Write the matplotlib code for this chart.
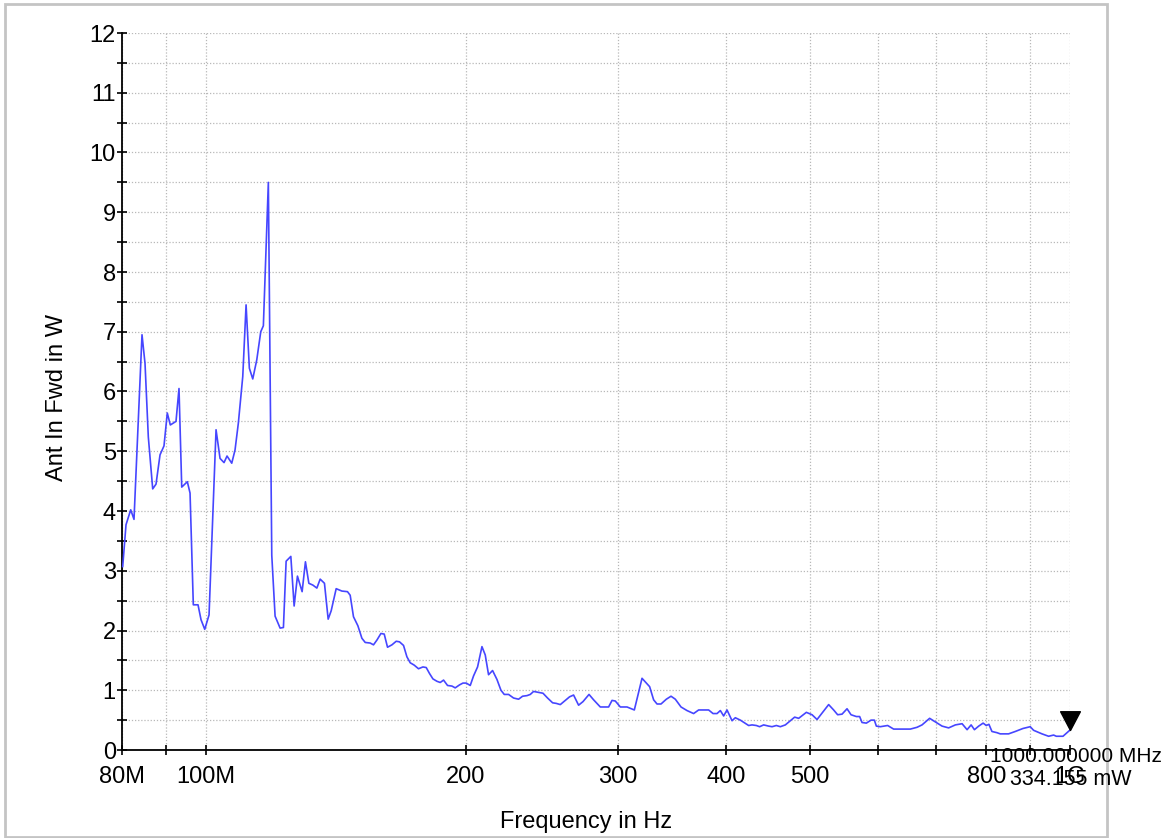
import matplotlib
matplotlib.use("Agg")
import matplotlib.pyplot as plt
from matplotlib.path import Path
from matplotlib.patches import Rectangle
from matplotlib.ticker import FixedLocator, NullFormatter

plt.rcParams['font.family'] = ['Liberation Sans', 'DejaVu Sans']

# Forward power sweep, frequency in MHz, power in W
freq_mhz = [
    80.15, 80.86, 81.88, 82.6, 84.38, 85.06, 85.81, 86.82, 87.59, 88.53,
    89.47, 90.26, 90.99, 92.38, 93.12, 93.8, 95.21, 95.9, 96.74, 97.96,
    98.75, 99.73, 100.88, 102.78, 103.88, 104.99, 105.83, 107.17, 108.11, 109.07,
    110.36, 111.34, 112.32, 113.34, 114.56, 115.78, 116.59, 118.15, 119.23, 120.29,
    121.91, 122.99, 123.88, 125.44, 126.55, 127.67, 129.27, 130.42, 131.61, 133.02,
    134.45, 135.64, 137.2, 138.56, 139.68, 141.55, 143.72, 145.88, 146.93, 148.23,
    149.97, 151.59, 152.93, 154.98, 156.35, 157.78, 159.47, 160.88, 162.3, 164.22,
    166.1, 167.57, 169.37, 170.9, 172.41, 174.27, 176.26, 178.36, 179.93, 181.52,
    183.17, 185.14, 186.77, 188.43, 190.44, 192.68, 194.39, 196.63, 198.42, 200.18,
    202.32, 204.11, 206.3, 208.73, 210.57, 212.43, 214.72, 217.25, 219.56, 221.51,
    224.07, 227.07, 230.13, 232.59, 235.33, 237.41, 239.51, 243.37, 245.59, 248.6,
    251.96, 254.44, 257.18, 260.62, 263.61, 266.45, 270.02, 273.22, 277.63, 281.04,
    286.11, 292.5, 295.18, 297.77, 301.78, 307.2, 313.25, 319.74, 326.29, 329.77,
    332.78, 336.33, 341.13, 345.43, 349.4, 354.75, 360.46, 366.86, 371.8, 381.83,
    386.33, 390.47, 393.93, 397.41, 401.0, 406.41, 409.96, 415.48, 424.77, 428.64,
    433.56, 437.4, 442.1, 448.02, 452.12, 457.31, 462.22, 468.42, 473.83, 480.18,
    485.33, 495.39, 502.96, 509.7, 517.92, 525.7, 532.74, 538.46, 544.8, 552.1,
    558.0, 565.95, 570.95, 574.6, 581.25, 588.58, 593.78, 596.95, 603.35, 615.2,
    625.1, 653.5, 665.3, 674.2, 688.0, 698.5, 711.1, 723.7, 736.8, 750.1,
    760.2, 768.4, 775.2, 784.1, 793.4, 800.0, 805.7, 812.2, 823.1, 830.4,
    849.0, 864.3, 882.2, 899.5, 907.5, 928.1, 944.6, 957.3, 964.2, 981.5,
    1000.0,
]
fwd_w = [
    3.07, 3.77, 4.02, 3.86, 6.95, 6.47, 5.24, 4.37, 4.45, 4.94,
    5.09, 5.64, 5.44, 5.50, 6.05, 4.40, 4.49, 4.30, 2.43, 2.43,
    2.18, 2.02, 2.26, 5.36, 4.88, 4.81, 4.92, 4.80, 5.02, 5.47,
    6.25, 7.45, 6.39, 6.21, 6.53, 7.00, 7.10, 9.50, 3.26, 2.24,
    2.04, 2.05, 3.16, 3.24, 2.41, 2.91, 2.65, 3.15, 2.79, 2.76,
    2.71, 2.86, 2.79, 2.19, 2.33, 2.70, 2.66, 2.65, 2.59, 2.23,
    2.08, 1.87, 1.80, 1.79, 1.76, 1.84, 1.95, 1.94, 1.72, 1.76,
    1.82, 1.81, 1.75, 1.56, 1.46, 1.42, 1.36, 1.39, 1.38, 1.28,
    1.19, 1.15, 1.13, 1.17, 1.08, 1.07, 1.04, 1.09, 1.12, 1.12,
    1.08, 1.24, 1.39, 1.73, 1.59, 1.26, 1.33, 1.18, 1.00, 0.93,
    0.93, 0.87, 0.85, 0.90, 0.91, 0.93, 0.98, 0.96, 0.95, 0.87,
    0.79, 0.78, 0.76, 0.83, 0.89, 0.92, 0.75, 0.81, 0.93, 0.84,
    0.72, 0.72, 0.83, 0.82, 0.72, 0.72, 0.67, 1.20, 1.06, 0.84,
    0.77, 0.77, 0.85, 0.90, 0.85, 0.72, 0.66, 0.61, 0.67, 0.67,
    0.61, 0.61, 0.66, 0.57, 0.67, 0.49, 0.54, 0.50, 0.41, 0.42,
    0.41, 0.39, 0.42, 0.40, 0.39, 0.41, 0.39, 0.42, 0.48, 0.55,
    0.53, 0.63, 0.59, 0.51, 0.64, 0.76, 0.67, 0.59, 0.60, 0.69,
    0.59, 0.56, 0.56, 0.46, 0.45, 0.50, 0.50, 0.40, 0.39, 0.41,
    0.35, 0.35, 0.38, 0.42, 0.53, 0.47, 0.40, 0.37, 0.42, 0.44,
    0.34, 0.42, 0.34, 0.40, 0.45, 0.41, 0.43, 0.31, 0.29, 0.27,
    0.27, 0.31, 0.36, 0.39, 0.33, 0.27, 0.23, 0.25, 0.23, 0.23,
    0.334,
]

x_ticks = [80, 90, 100, 200, 300, 400, 500, 600, 700, 800, 900, 1000]
x_tick_labels = ['80M', '', '100M', '200', '300', '400', '500', '', '', '800', '', '1G']
y_major = list(range(0, 13))
y_minor = [v + 0.5 for v in range(0, 12)]

marker_freq = 1000.0
marker_value = 0.334
marker_freq_label = '1000.000000 MHz'
marker_value_label = '334.155 mW'

W, H = 1170, 838
fig = plt.figure(figsize=(W / 100, H / 100), dpi=100)
ax = fig.add_axes([122 / W, 1 - 750 / H, (1070 - 122) / W, (750 - 33) / H])

ax.set_xscale('log')
ax.set_xlim(80, 1000)
ax.set_ylim(0, 12)

ax.plot(freq_mhz, fwd_w, color='#4646ff', linewidth=1.2, zorder=3, clip_on=False)

# Marker triangle whose tip sits on the data point
tri = Path([(-1.0, 1.9), (1.0, 1.9), (0.0, 0.0), (-1.0, 1.9)],
           [Path.MOVETO, Path.LINETO, Path.LINETO, Path.CLOSEPOLY])
ax.plot([marker_freq], [marker_value], marker=tri, markersize=27,
        color='black', linestyle='none', zorder=5, clip_on=False)

# Axes styling
for side in ('top', 'right'):
    ax.spines[side].set_visible(False)
for side in ('left', 'bottom'):
    ax.spines[side].set_linewidth(1.3)
    ax.spines[side].set_color('black')

ax.xaxis.set_major_locator(FixedLocator(x_ticks))
ax.xaxis.set_minor_locator(FixedLocator([]))
ax.set_xticklabels(x_tick_labels)
ax.xaxis.set_minor_formatter(NullFormatter())
ax.yaxis.set_major_locator(FixedLocator(y_major))
ax.yaxis.set_minor_locator(FixedLocator(y_minor))

ax.tick_params(axis='both', which='both', direction='inout', length=7,
               width=1.2, colors='black', labelsize=17)
ax.tick_params(axis='x', pad=8)
ax.tick_params(axis='y', pad=1)

ax.grid(True, which='major', axis='x', color='#b8b8b8', linestyle=(0, (1, 1.5)),
        linewidth=0.9)
ax.grid(True, which='both', axis='y', color='#b8b8b8', linestyle=(0, (1, 1.5)),
        linewidth=0.9)
ax.set_axisbelow(True)

# Axis titles
fig.text(586 / W, 1 - 822 / H, 'Frequency in Hz', ha='center', va='center', fontsize=17)
fig.text(57 / W, 1 - 397 / H, 'Ant In Fwd in W', ha='center', va='center',
         rotation=90, fontsize=17)

# Marker readout
fig.text(990 / W, 1 - 756 / H, marker_freq_label, ha='left', va='center', fontsize=15)
fig.text(1010 / W, 1 - 779 / H, marker_value_label, ha='left', va='center', fontsize=15.5)

# Outer frame
fig.patches.append(Rectangle((5 / W, 1 - 837 / H), (1107 - 5) / W, (837 - 4) / H,
                             transform=fig.transFigure, fill=False,
                             edgecolor='#c4c4c4', linewidth=2))

fig.savefig('out.png', dpi=100)
